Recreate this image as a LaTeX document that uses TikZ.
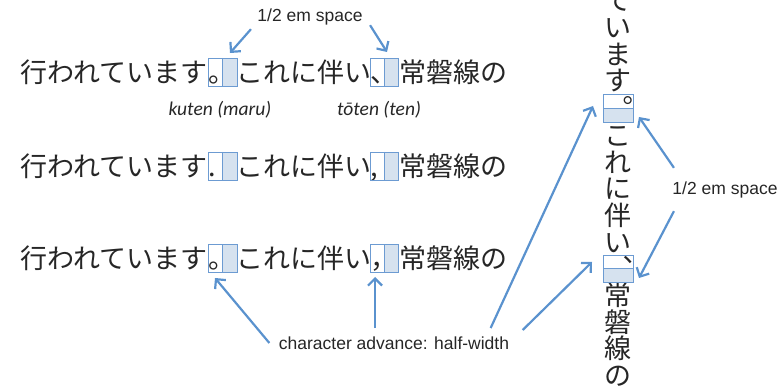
\documentclass[tikz,border=0pt]{standalone}
\usepackage{fontspec}
\usepackage{tikz}
\usetikzlibrary{arrows.meta}
\usepackage{xcolor}
\newfontfamily\jpfont{Noto Sans CJK JP}
\newfontfamily\labelfont{Liberation Sans}
\newfontfamily\notefont{Carlito}
\definecolor{arrowblue}{HTML}{5A92CE}
\definecolor{cellfill}{HTML}{D6E2EF}
\definecolor{cellline}{HTML}{6C9BD2}

\begin{document}
\begin{tikzpicture}[x=1pt,y=-1pt,
  jp/.style={font=\jpfont\fontsize{27}{27}\selectfont,inner sep=0pt,
    text height=23.8pt,text depth=3.2pt,text=black!85},
  lbl/.style={font=\labelfont\fontsize{17.5}{18}\selectfont,text=black!85},
  note/.style={font=\notefont\itshape\fontsize{19.5}{20}\selectfont,text=black!85},
  cell/.style={fill=cellfill},
  cellrule/.style={draw=cellline,line width=0.9pt},
  pointer/.style={draw=arrowblue,line width=2.2pt,
    -{Straight Barb[length=7pt,width=14pt]}}]
\useasboundingbox (0,0) rectangle (780,390);
\newcommand{\jprow}[4]{
  \begin{scope}[shift={(0,#2)}]
    \fill[cell] (222.5,-14) rectangle (237,14);  % right half of kuten cell
    \fill[cell] (384,-14) rectangle (398,14);    % right half of toten cell
    \node[jp,anchor=east] (#1a) at (207.5,0) {行われています};
    \node[jp,anchor=west] (#1p) at (208,0)   {#3};
    \node[jp,anchor=west] (#1b) at (236.5,0) {これに伴い};
    \node[jp,anchor=west] (#1q) at (370,0)   {#4};
    \node[jp,anchor=west] (#1c) at (399,0)   {常磐線の};
    \draw[cellrule] (208,-14) rectangle (237,14) (222.5,-14)--(222.5,14);
    \draw[cellrule] (370,-14) rectangle (398,14) (384,-14)--(384,14);
  \end{scope}
}

% ---------- ROW 1 : kuten / toten ----------
\jprow{ra}{72}{。}{、}
\node[note] (kuten) at (220,110) {kuten (maru)};
\node[note] (toten) at (379,110) {tōten (ten)};

% ---------- ROW 2 : period / comma ----------
\jprow{rb}{166}{.}{,}

% ---------- ROW 3 : maru / full-width comma ----------
\jprow{rc}{258.5}{。}{，}

% ---------- VERTICAL COLUMN ----------
\fill[cell] (603,108) rectangle (633,122);
\fill[cell] (603,268.5) rectangle (633,282);
\foreach \ch/\yy [count=\i] in {て/0.3,い/27,ま/54,す/80.6,こ/135.4,れ/162,に/188.7,
    伴/215.4,い/242,常/295.4,磐/322,線/348.7,の/375.4}
  \node[jp] (v\i) at (618,\yy) {\ch};
\node[jp] (vmaru) at (620,108) {︒};
\node[jp] (vten) at (620,268.5) {︑};
\draw[cellrule] (603,94) rectangle (633,122) (603,108)--(633,108);
\draw[cellrule] (603,255) rectangle (633,282) (603,268.5)--(633,268.5);

% ---------- LABELS AND ARROWS ----------
\node[lbl] (toplbl) at (310,16.5) {1/2 em space};
\node[lbl] (sidelbl) at (725,189.5) {1/2 em space};
\node[lbl] (advlbl) at (394,343) {character advance: half-width};

\coordinate (kutop) at (230,53);
\coordinate (totop) at (387,52);
\coordinate (kubot) at (215,278);
\coordinate (tobot) at (375,277);
\coordinate (vku) at (593,106);
\coordinate (vto) at (592,262);
\coordinate (vkuR) at (639,117);
\coordinate (vtoR) at (639,278);

\draw[pointer] ([xshift=-3pt,yshift=-1pt]toplbl.south west) -- (kutop);
\draw[pointer] ([xshift=4pt,yshift=3pt]toplbl.south east) -- (totop);
\draw[pointer] ([xshift=-6pt]advlbl.west) -- (kubot);
\draw[pointer] ([yshift=5pt]advlbl.north -| tobot) -- (tobot);
\draw[pointer] ([xshift=-22pt,yshift=5pt]advlbl.north east) -- (vku);
\draw[pointer] ([xshift=10pt,yshift=3pt]advlbl.north east) -- (vto);
\draw[pointer] ([xshift=5pt,yshift=10pt]sidelbl.north west) -- (vkuR);
\draw[pointer] ([xshift=5pt,yshift=-10pt]sidelbl.south west) -- (vtoR);

\end{tikzpicture}
\end{document}
